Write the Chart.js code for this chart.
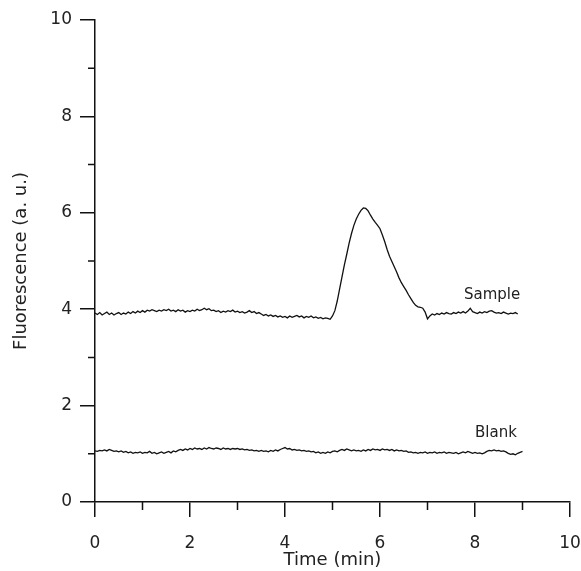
<!DOCTYPE html>
<html>
<head>
<meta charset="utf-8">
<script src="https://cdn.jsdelivr.net/npm/chart.js@4/dist/chart.umd.min.js"></script>
<style>
  body { margin: 0; background: #fff; }
  #chart { display: block; }
</style>
</head>
<body>
<canvas id="chart" width="581" height="571"></canvas>
<script>
// sampling interval of both traces (min)
var timeStep = 0.05;

// Sample trace, 0 to 8.9 min
var sampleValues = [
  3.92, 3.89, 3.93, 3.88, 3.91, 3.94, 3.89, 3.92, 3.88, 3.91,
  3.93, 3.89, 3.92, 3.90, 3.94, 3.91, 3.95, 3.92, 3.96, 3.93,
  3.97, 3.94, 3.98, 3.96, 3.99, 3.97, 3.95, 3.98, 3.96, 3.99,
  3.97, 4.00, 3.96, 3.98, 3.95, 3.99, 3.96, 3.98, 3.94, 3.97,
  3.95, 3.98, 3.96, 4.00, 3.97, 3.99, 4.02, 3.99, 4.01, 3.97,
  3.98, 3.95, 3.97, 3.93, 3.96, 3.94, 3.97, 3.95, 3.98, 3.94,
  3.96, 3.93, 3.95, 3.92, 3.94, 3.97, 3.93, 3.95, 3.91, 3.93,
  3.90, 3.87, 3.89, 3.86, 3.88, 3.85, 3.87, 3.84, 3.86, 3.83,
  3.85, 3.82, 3.86, 3.83, 3.85, 3.87, 3.84, 3.86, 3.82, 3.85,
  3.83, 3.86, 3.82, 3.84, 3.81, 3.83, 3.80, 3.82, 3.81, 3.79,
  3.86, 3.97, 4.17, 4.42, 4.67, 4.92, 5.14, 5.37, 5.57, 5.74,
  5.87, 5.97, 6.05, 6.10, 6.09, 6.04, 5.95, 5.87, 5.80, 5.74,
  5.67, 5.54, 5.40, 5.24, 5.10, 4.99, 4.88, 4.77, 4.65, 4.55,
  4.47, 4.39, 4.30, 4.22, 4.14, 4.08, 4.05, 4.04, 4.02, 3.94,
  3.80, 3.86, 3.90, 3.88, 3.91, 3.89, 3.92, 3.90, 3.93, 3.91,
  3.90, 3.93, 3.91, 3.94, 3.92, 3.95, 3.92, 3.96, 4.02, 3.95,
  3.93, 3.91, 3.94, 3.92, 3.95, 3.93, 3.96, 3.97, 3.94, 3.92,
  3.93, 3.91, 3.94, 3.92, 3.90, 3.92, 3.91, 3.93, 3.90
];

// Blank trace, 0 to 9.0 min
var blankValues = [
  1.06, 1.05, 1.07, 1.06, 1.08, 1.06, 1.09, 1.07, 1.05, 1.06,
  1.04, 1.06, 1.03, 1.05, 1.02, 1.04, 1.01, 1.03, 1.02, 1.04,
  1.01, 1.03, 1.02, 1.05, 1.01, 1.03, 1.00, 1.02, 1.04, 1.01,
  1.03, 1.05, 1.02, 1.06, 1.04, 1.07, 1.09, 1.07, 1.10, 1.08,
  1.11, 1.09, 1.12, 1.10, 1.11, 1.09, 1.12, 1.10, 1.13, 1.11,
  1.10, 1.12, 1.11, 1.09, 1.12, 1.10, 1.11, 1.09, 1.11, 1.10,
  1.11, 1.09, 1.10, 1.08, 1.09, 1.07, 1.08, 1.06, 1.07, 1.05,
  1.07, 1.05, 1.06, 1.04, 1.07, 1.05, 1.08, 1.06, 1.09, 1.11,
  1.13, 1.10, 1.11, 1.08, 1.09, 1.07, 1.08, 1.06, 1.07, 1.05,
  1.06, 1.04, 1.05, 1.02, 1.04, 1.01, 1.03, 1.01, 1.04, 1.02,
  1.05, 1.06, 1.04, 1.07, 1.09, 1.07, 1.10, 1.08, 1.06, 1.08,
  1.06, 1.07, 1.05, 1.08, 1.06, 1.09, 1.07, 1.10, 1.08, 1.09,
  1.07, 1.10, 1.08, 1.09, 1.07, 1.09, 1.06, 1.08, 1.06, 1.07,
  1.05, 1.06, 1.03, 1.04, 1.02, 1.03, 1.01, 1.03, 1.02, 1.04,
  1.01, 1.03, 1.02, 1.04, 1.01, 1.03, 1.02, 1.04, 1.01, 1.03,
  1.02, 1.01, 1.03, 1.00, 1.02, 1.04, 1.02, 1.05, 1.03, 1.01,
  1.03, 1.01, 1.02, 1.00, 1.02, 1.05, 1.07, 1.06, 1.08, 1.06,
  1.07, 1.05, 1.06, 1.04, 1.01, 0.99, 1.00, 0.98, 1.01, 1.03,
  1.05
];

var xTicks = [0, 2, 4, 6, 8, 10];
var yTicks = [0, 2, 4, 6, 8, 10];

// text next to the traces, in data units
var traceLabels = [
  { text: 'Sample', x: 8.36, y: 4.3 },
  { text: 'Blank', x: 8.44, y: 1.43 }
];

function toPoints(values) {
  return values.map(function (v, i) {
    return { x: Math.round(i * timeStep * 100) / 100, y: v };
  });
}

var ink = '#111';
var fontFamily = '"DejaVu Sans", sans-serif';

// short unlabeled ticks at odd values + trace names
var minorTicks = {
  id: 'minorTicks',
  afterDraw: function (chart) {
    var c = chart.ctx;
    var xs = chart.scales.x, ys = chart.scales.y;
    c.save();
    c.strokeStyle = ink;
    c.lineWidth = 1.5;
    c.beginPath();
    for (var v = 1; v < 10; v += 2) {
      var px = xs.getPixelForValue(v);
      c.moveTo(px, xs.top);
      c.lineTo(px, xs.top + 8);
      var py = ys.getPixelForValue(v);
      c.moveTo(ys.right, py);
      c.lineTo(ys.right - 7, py);
    }
    c.stroke();
    c.fillStyle = '#222';
    c.font = '15px ' + fontFamily;
    c.textAlign = 'center';
    c.textBaseline = 'middle';
    traceLabels.forEach(function (l) {
      c.fillText(l.text, xs.getPixelForValue(l.x), ys.getPixelForValue(l.y));
    });
    c.restore();
  }
};

new Chart(document.getElementById('chart'), {
  type: 'line',
  data: {
    datasets: [{
      label: 'Sample',
      data: toPoints(sampleValues),
      borderColor: ink,
      borderWidth: 1.3,
      pointRadius: 0,
      tension: 0
    }, {
      label: 'Blank',
      data: toPoints(blankValues),
      borderColor: ink,
      borderWidth: 1.3,
      pointRadius: 0,
      tension: 0
    }]
  },
  options: {
    responsive: false,
    animation: false,
    layout: { padding: { top: 20, right: 11, left: 0, bottom: 0 } },
    plugins: { legend: { display: false }, tooltip: { enabled: false } },
    scales: {
      x: {
        type: 'linear',
        min: 0,
        max: 10,
        afterFit: function (s) { s.height = 69; s.paddingLeft = 0; s.paddingRight = 0; },
        afterBuildTicks: function (s) { s.ticks = xTicks.map(function (v) { return { value: v }; }); },
        border: { display: true, color: ink, width: 1.5 },
        grid: { drawOnChartArea: false, drawTicks: true, tickLength: 15, color: ink, lineWidth: 1.5 },
        ticks: { padding: 16, color: '#222', font: { family: fontFamily, size: 17 }, maxRotation: 0 },
        title: { display: true, text: 'Time (min)', color: '#222', padding: 0, font: { family: fontFamily, size: 18 } }
      },
      y: {
        type: 'linear',
        min: 0,
        max: 10,
        afterFit: function (s) { s.width = 95; s.paddingTop = 0; s.paddingBottom = 0; },
        afterBuildTicks: function (s) { s.ticks = yTicks.map(function (v) { return { value: v }; }); },
        border: { display: true, color: ink, width: 1.5 },
        grid: { drawOnChartArea: false, drawTicks: true, tickLength: 15, color: ink, lineWidth: 1.5 },
        ticks: { padding: 8, color: '#222', font: { family: fontFamily, size: 17 } },
        title: { display: true, text: 'Fluorescence (a. u.)', color: '#222', padding: 11, font: { family: fontFamily, size: 18 } }
      }
    }
  },
  plugins: [minorTicks]
});
</script>
</body>
</html>
